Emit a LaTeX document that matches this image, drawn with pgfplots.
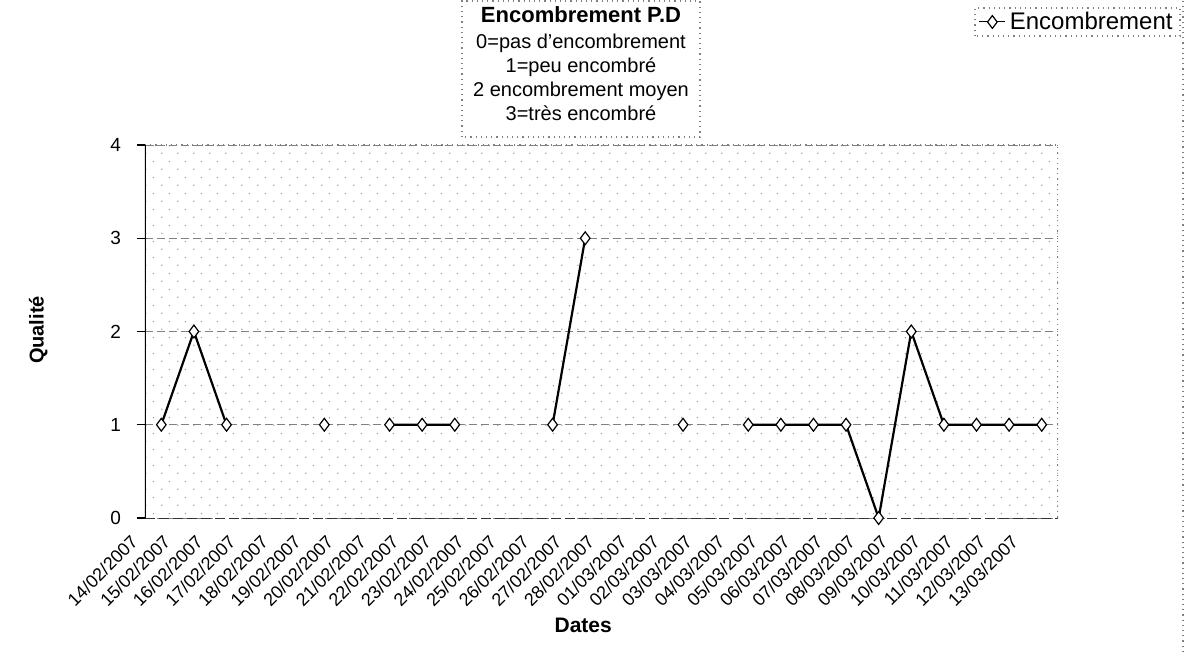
\documentclass[border=0pt]{standalone}
\usepackage{fontspec}
\setmainfont{Liberation Sans}
\usepackage{pgfplots}
\pgfplotsset{compat=1.18}
\usetikzlibrary{patterns}

% sparse dotted fill of the plot area
\pgfdeclarepatternformonly{sparsedots}{\pgfpointorigin}{\pgfpoint{8pt}{8pt}}{\pgfpoint{8pt}{8pt}}{%
  \pgfpathcircle{\pgfpoint{1pt}{1.5pt}}{0.4pt}%
  \pgfpathcircle{\pgfpoint{5pt}{5.5pt}}{0.4pt}%
  \pgfusepath{fill}}

% day index (0 = 14/02/2007), encombrement level; nan = no reading
\pgfplotstableread{
x y
0 1
1 2
2 1
3 nan
4 nan
5 1
6 nan
7 1
8 1
9 1
10 nan
11 nan
12 1
13 3
14 nan
15 nan
16 1
17 nan
18 1
19 1
20 1
21 1
22 0
23 2
24 1
25 1
26 1
27 1
}\encombrement

\begin{document}
\begin{tikzpicture}
\begin{axis}[
  scale only axis,
  width=456.5pt, height=186.5pt,
  xmin=-0.5, xmax=27.5, ymin=0, ymax=4,
  xtick={0,...,27},
  xticklabels={14/02/2007,15/02/2007,16/02/2007,17/02/2007,18/02/2007,19/02/2007,20/02/2007,21/02/2007,22/02/2007,23/02/2007,24/02/2007,25/02/2007,26/02/2007,27/02/2007,28/02/2007,01/03/2007,02/03/2007,03/03/2007,04/03/2007,05/03/2007,06/03/2007,07/03/2007,08/03/2007,09/03/2007,10/03/2007,11/03/2007,12/03/2007,13/03/2007},
  ytick={0,1,2,3,4},
  xtick style={draw=none},
  ytick pos=left,
  tick align=outside,
  major tick length=4pt,
  ytick style={black, line width=0.6pt},
  axis line style={draw=none},
  /pgf/number format/assume math mode=true,
  xticklabel style={font=\fontsize{9}{10}\selectfont, xshift=-11pt, yshift=-4pt, rotate=45, anchor=east},
  yticklabel style={font=\fontsize{9.5}{11}\selectfont, anchor=east, xshift=-4.5pt},
  ymajorgrids,
  grid style={gray, dash pattern=on 4pt off 2pt, line width=0.4pt},
  axis background/.style={pattern=sparsedots, pattern color=gray!80},
  xlabel={\bfseries Dates},
  ylabel={\bfseries Qualité},
  every axis x label/.style={at={(axis description cs:0.48,-0.287)}, anchor=center, font=\fontsize{10.5}{12}\selectfont},
  every axis y label/.style={at={(axis description cs:-0.117,0.504)}, anchor=center, rotate=90, font=\fontsize{10}{12}\selectfont},
  unbounded coords=jump,
  legend style={at={(axis description cs:1.1325,1.3298)}, anchor=east, draw=none, fill=none,
    font=\fontsize{12}{14}\selectfont, inner sep=1pt},
  legend image code/.code={\draw[mark repeat=2, mark phase=2, line width=0.5pt]
    plot coordinates {(0pt,0pt) (6.5pt,0pt) (13pt,0pt)};},
]
% plot area border and axis lines
\draw[gray, dotted, line width=0.6pt] (rel axis cs:0,1) -- (rel axis cs:1,1) -- (rel axis cs:1,0);
\draw[black!80, dash pattern=on 5pt off 2pt, line width=0.5pt] (rel axis cs:0,0) -- (rel axis cs:1,0);
\draw[black, line width=1pt] (rel axis cs:0,0) -- (rel axis cs:0,1);

\addplot[black, line width=1.1pt, mark=diamond*,
  mark size=3.2pt, mark options={fill=white, draw=black, line width=0.6pt, solid}]
  table[x=x, y=y] {\encombrement};
\addlegendentry{Encombrement}
\end{axis}

% legend frame
\draw[gray, dotted, line width=0.6pt] (415pt,241pt) rectangle (517.5pt,255pt);

% key to the levels
\draw[gray, dotted, line width=0.6pt] (158.5pt,190.5pt) rectangle (277.5pt,258.5pt);
\node[anchor=north, align=center, inner sep=0pt] at (218pt,256pt) {%
  {\fontsize{11}{13}\selectfont\bfseries Encombrement P.D}\\[1pt]
  {\fontsize{10}{10.8}\selectfont 0=pas d'encombrement}\\
  {\fontsize{10}{10.8}\selectfont 1=peu encombré}\\
  {\fontsize{10}{10.8}\selectfont 2 encombrement moyen}\\
  {\fontsize{10}{10.8}\selectfont 3=très encombré}};

% chart area edge
\draw[gray, dotted, line width=0.6pt] (519pt,-67pt) -- (519pt,259pt);

\pgfresetboundingbox
\useasboundingbox (-72.5pt,-67pt) rectangle (520.5pt,259pt);
\end{tikzpicture}
\end{document}
